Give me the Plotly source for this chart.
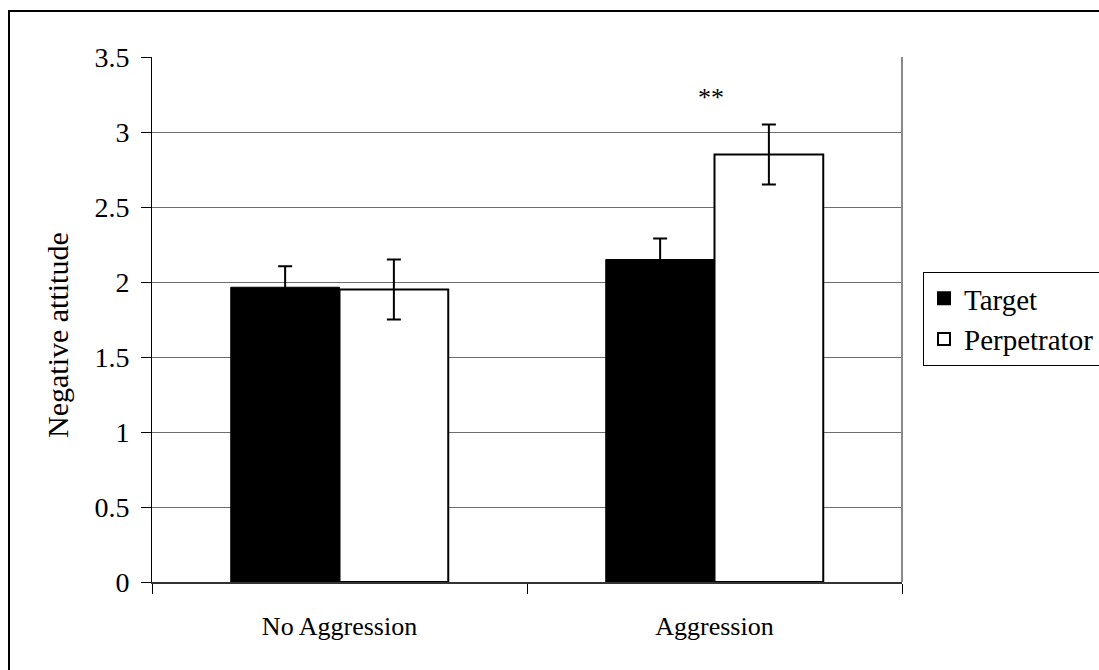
import plotly.graph_objects as go

# Mean negative attitude by condition, with standard errors
categories = ["No Aggression", "Aggression"]
target_means = [1.965, 2.15]
target_se = [0.14, 0.14]
perpetrator_means = [1.95, 2.85]
perpetrator_se = [0.20, 0.20]
y_ticks = [0, 0.5, 1, 1.5, 2, 2.5, 3, 3.5]
y_tick_labels = ["0", "0.5", "1", "1.5", "2", "2.5", "3", "3.5"]
significance_label = "**"
significance_y = 3.23

FONT = "'Liberation Serif', 'Times New Roman', serif"

fig = go.Figure()
fig.add_trace(go.Bar(
    name="Target", x=categories, y=target_means,
    marker=dict(color="black", line=dict(color="black", width=1)),
    error_y=dict(type="data", array=target_se, color="black", thickness=2, width=7),
))
fig.add_trace(go.Bar(
    name="Perpetrator", x=categories, y=perpetrator_means,
    marker=dict(color="white", line=dict(color="black", width=2)),
    error_y=dict(type="data", array=perpetrator_se, color="black", thickness=2, width=7),
))

# Pixel geometry of the plotting area
W, H = 1099, 670
L, R, T, B = 152, 902, 57, 582


def px_x(p):
    return (p - L) / (R - L)


def px_y(p):
    return (B - p) / (B - T)


frame = dict(color="black", width=2)

fig.update_layout(
    width=W, height=H, autosize=False,
    margin=dict(l=L, r=W - R, t=T, b=H - B, pad=0, autoexpand=False),
    paper_bgcolor="white", plot_bgcolor="white",
    barmode="group", bargap=0.42, bargroupgap=0,
    font=dict(family=FONT, color="black", size=25),
    showlegend=True,
    legend=dict(
        x=px_x(923), y=px_y(272), xanchor="left", yanchor="top",
        bordercolor="black", borderwidth=1, bgcolor="white",
        font=dict(family=FONT, size=29, color="black"),
        tracegroupgap=0, itemsizing="constant",
    ),
    xaxis=dict(
        type="category", showgrid=False, zeroline=False,
        showline=True, linecolor="#333333", linewidth=2,
        ticks="outside", tickson="boundaries", ticklen=10, tickcolor="black", tickwidth=1,
        tickfont=dict(family=FONT, size=26, color="black"),
        ticklabelstandoff=20,
    ),
    yaxis=dict(
        range=[0, 3.5], tickvals=y_ticks, ticktext=y_tick_labels,
        showgrid=True, gridcolor="#6e6e6e", gridwidth=1, zeroline=False,
        showline=True, linecolor="black", linewidth=1,
        ticks="outside", ticklen=10, tickcolor="black", tickwidth=1,
        tickfont=dict(family=FONT, size=28, color="black"),
        ticklabelstandoff=6,
    ),
    shapes=[
        # right edge of the plotting area
        dict(type="line", xref="paper", yref="paper", x0=1, x1=1, y0=0, y1=1,
             line=dict(color="#8a8a8a", width=2)),
        # outer chart frame: top and left edges (the rest runs off the page)
        dict(type="line", xref="paper", yref="paper",
             x0=px_x(8), x1=px_x(W + 5), y0=px_y(11), y1=px_y(11),
             line=frame, layer="below"),
        dict(type="line", xref="paper", yref="paper",
             x0=px_x(9), x1=px_x(9), y0=px_y(10), y1=px_y(H + 5),
             line=frame, layer="below"),
    ],
    annotations=[
        dict(text="Negative attitude", xref="paper", yref="paper",
             x=px_x(57), y=px_y(335), textangle=-90, showarrow=False,
             font=dict(family=FONT, size=30, color="black"),
             xanchor="center", yanchor="middle"),
        dict(text=significance_label, xref="x", yref="y",
             x=categories[1], y=significance_y, xshift=-4, showarrow=False,
             font=dict(family=FONT, size=26, color="black"),
             xanchor="center", yanchor="middle"),
    ],
)

fig.write_html("out.html")
